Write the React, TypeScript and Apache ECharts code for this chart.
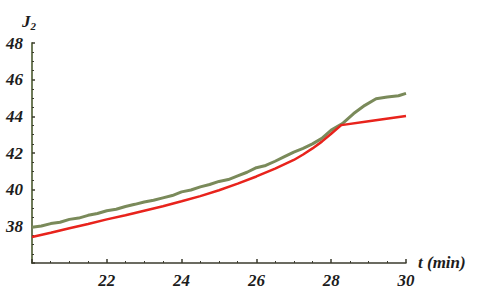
import React, { useEffect, useRef } from "react";
import * as echarts from "echarts";

const greenT = [20, 20.25, 20.5, 20.75, 21, 21.25, 21.5, 21.75, 22, 22.25, 22.5, 22.75, 23, 23.25, 23.5, 23.75, 24, 24.25, 24.5, 24.75, 25, 25.25, 25.5, 25.75, 26, 26.25, 26.5, 26.75, 27, 27.25, 27.5, 27.75, 28, 28.3, 28.6, 28.9, 29.2, 29.5, 29.8, 30];
const greenJ = [37.95, 38.02, 38.15, 38.22, 38.38, 38.45, 38.6, 38.7, 38.85, 38.93, 39.08, 39.2, 39.33, 39.42, 39.55, 39.68, 39.88, 39.98, 40.15, 40.28, 40.45, 40.55, 40.75, 40.95, 41.2, 41.32, 41.55, 41.8, 42.05, 42.25, 42.5, 42.8, 43.25, 43.6, 44.15, 44.6, 44.96, 45.05, 45.12, 45.25];

const redT = [20, 20.5, 21, 21.5, 22, 22.5, 23, 23.5, 24, 24.5, 25, 25.5, 26, 26.5, 27, 27.25, 27.5, 27.75, 28, 28.27, 29, 30];
const redJ = [37.42, 37.65, 37.9, 38.13, 38.38, 38.6, 38.85, 39.1, 39.37, 39.65, 39.97, 40.33, 40.72, 41.15, 41.62, 41.92, 42.25, 42.62, 43.05, 43.52, 43.73, 44.02];

const xTicks = [20, 30, 2];
const yTicks = [36, 48, 2];

const serif = "serif";

const labelFont = {
  fontFamily: serif,
  fontStyle: "italic" as const,
  fontWeight: "bold" as const,
  fontSize: 17,
  color: "#1c1c1c",
};

export default function App() {
  const ref = useRef<HTMLDivElement>(null);
  useEffect(() => {
    if (!ref.current) return;
    const chart = echarts.init(ref.current, null, { renderer: "svg" });
    chart.setOption({
      animation: false,
      backgroundColor: "#ffffff",
      textStyle: { fontFamily: serif },
      grid: { left: 32, right: 79, top: 43, bottom: 30 },
      xAxis: {
        type: "value",
        min: xTicks[0],
        max: xTicks[1],
        interval: xTicks[2],
        axisLine: { show: true, lineStyle: { color: "#3b3b2e", width: 1.5 } },
        axisTick: { show: true, inside: true, length: 4, lineStyle: { color: "#3b3b2e", width: 1.5 } },
        minorTick: { show: true, splitNumber: 4, length: 2, lineStyle: { color: "#3b3b2e", width: 1 } },
        splitLine: { show: false },
        axisLabel: { ...labelFont, margin: 9, showMinLabel: false },
      },
      yAxis: {
        type: "value",
        min: yTicks[0],
        max: yTicks[1],
        interval: yTicks[2],
        axisLine: { show: true, lineStyle: { color: "#6e7a58", width: 2 } },
        axisTick: { show: true, inside: true, length: 3, lineStyle: { color: "#3b3b2e", width: 1.5 } },
        minorTick: { show: true, splitNumber: 4, length: 2, lineStyle: { color: "#3b3b2e", width: 1 } },
        splitLine: { show: false },
        axisLabel: { ...labelFont, margin: 9, showMinLabel: false },
      },
      graphic: [
        {
          type: "text",
          left: 22,
          top: 13,
          style: {
            text: "{a|J}{b|2}",
            rich: {
              a: { fontFamily: serif, fontStyle: "italic", fontWeight: "bold", fontSize: 17, fill: "#1c1c1c" },
              b: { fontFamily: serif, fontStyle: "italic", fontWeight: "bold", fontSize: 11, fill: "#1c1c1c", padding: [8, 0, 0, 0] },
            },
          },
        },
        {
          type: "text",
          left: 418,
          top: 254,
          style: {
            text: "t (min)",
            fontFamily: serif,
            fontStyle: "italic",
            fontWeight: "bold",
            fontSize: 17,
            fill: "#1c1c1c",
          },
        },
      ],
      series: [
        {
          type: "line",
          data: greenT.map((t, i) => [t, greenJ[i]]),
          showSymbol: false,
          lineStyle: { color: "#7a8a5a", width: 3 },
          z: 2,
        },
        {
          type: "line",
          data: redT.map((t, i) => [t, redJ[i]]),
          showSymbol: false,
          lineStyle: { color: "#e8231c", width: 2.5 },
          z: 3,
        },
      ],
    });
    return () => chart.dispose();
  }, []);
  return <div ref={ref} style={{ width: 485, height: 293, position: "absolute", left: 0, top: 0 }} />;
}
